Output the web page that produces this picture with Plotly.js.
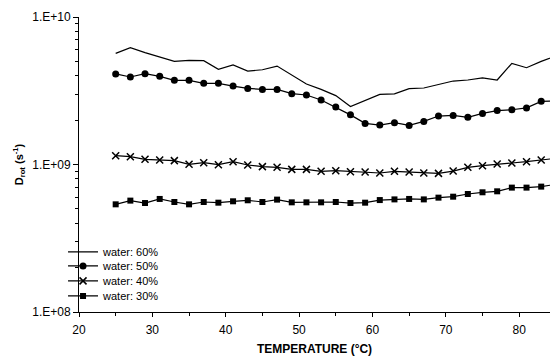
<!DOCTYPE html>
<html>
<head>
<meta charset="utf-8">
<script src="https://cdn.plot.ly/plotly-3.0.1.min.js"></script>
<style>html,body{margin:0;padding:0;background:#fff;}#chart{width:550px;height:356px;}</style>
</head>
<body>
<div id="chart"></div>
<script>
var temperature = [25,27,29,31,33,35,37,39,41,43,45,47,49,51,53,55,57,59,61,63,65,67,69,71,73,75,77,79,81,83,85];
var water60 = [5.67e9,6.20e9,5.73e9,5.35e9,5.00e9,5.08e9,5.06e9,4.42e9,4.73e9,4.30e9,4.39e9,4.65e9,4.04e9,3.51e9,3.23e9,2.93e9,2.47e9,2.71e9,2.99e9,3.01e9,3.27e9,3.30e9,3.48e9,3.68e9,3.74e9,3.86e9,3.74e9,4.85e9,4.53e9,5.00e9,5.44e9];
var water50 = [4.11e9,3.92e9,4.13e9,3.96e9,3.72e9,3.72e9,3.55e9,3.55e9,3.40e9,3.28e9,3.23e9,3.23e9,3.02e9,2.96e9,2.74e9,2.45e9,2.17e9,1.90e9,1.85e9,1.92e9,1.84e9,1.96e9,2.13e9,2.15e9,2.09e9,2.22e9,2.32e9,2.35e9,2.42e9,2.68e9,2.70e9];
var water40 = [1.148e9,1.13e9,1.084e9,1.073e9,1.062e9,1.003e9,1.029e9,0.997e9,1.045e9,0.992e9,0.967e9,0.957e9,0.927e9,0.927e9,0.899e9,0.908e9,0.894e9,0.890e9,0.876e9,0.899e9,0.890e9,0.876e9,0.871e9,0.903e9,0.957e9,0.982e9,1.008e9,1.024e9,1.045e9,1.073e9,1.101e9];
var water30 = [5.37e8,5.69e8,5.48e8,5.84e8,5.57e8,5.37e8,5.57e8,5.51e8,5.63e8,5.72e8,5.57e8,5.78e8,5.54e8,5.54e8,5.54e8,5.57e8,5.48e8,5.51e8,5.74e8,5.80e8,5.84e8,5.80e8,5.96e8,6.05e8,6.31e8,6.48e8,6.58e8,6.97e8,6.97e8,7.08e8,7.34e8];
var seriesNames = ['water: 60%','water: 50%','water: 40%','water: 30%'];
var yTickVals = [1e8,1e9,1e10];
var yTickText = ['1.E+08','1.E+09','1.E+10'];
var yMinorVals = [];
[1e8,1e9].forEach(function(d){for(var k=2;k<=9;k++){yMinorVals.push(k*d);}});

var lineStyle = {color:'#000', width:1.2};
var traces = [
  {x:temperature, y:water60, name:seriesNames[0], legend:'legend', mode:'lines', line:lineStyle},
  {x:temperature, y:water50, name:seriesNames[1], legend:'legend2', mode:'lines+markers', line:lineStyle, marker:{symbol:'circle', size:7, color:'#000'}},
  {x:temperature, y:water40, name:seriesNames[2], legend:'legend3', mode:'lines+markers', line:lineStyle, marker:{symbol:'x-thin', size:7, color:'#000', line:{color:'#000', width:1.5}}},
  {x:temperature, y:water30, name:seriesNames[3], legend:'legend4', mode:'lines+markers', line:lineStyle, marker:{symbol:'square', size:6, color:'#000'}}
];

function leg(y){
  return {x:-0.0339, xanchor:'left', y:y, yanchor:'top', bgcolor:'rgba(0,0,0,0)', font:{size:11}, itemwidth:30};
}

var layout = {
  width:550, height:356,
  margin:{l:79, r:0, t:17, b:44},
  paper_bgcolor:'#fff', plot_bgcolor:'#fff',
  font:{family:'"Liberation Sans", Arial, sans-serif', color:'#000', size:12},
  showlegend:true,
  legend:leg(0.2529),
  legend2:leg(0.2054),
  legend3:leg(0.1546),
  legend4:leg(0.1037),
  xaxis:{
    range:[20,84.2], showgrid:false, zeroline:false,
    showline:true, linecolor:'#000', linewidth:1,
    ticks:'outside', ticklen:4, tickcolor:'#000',
    tickvals:[20,30,40,50,60,70,80],
    ticklabelstandoff:3,
    minor:{ticks:'outside', ticklen:3, tickcolor:'#000', tickvals:[25,35,45,55,65,75]},
    tickfont:{size:12},
    title:{text:'<b>TEMPERATURE (°C)</b>', font:{size:12}, standoff:9}
  },
  yaxis:{
    type:'log', range:[8,10], showgrid:false, zeroline:false,
    showline:true, linecolor:'#000', linewidth:1,
    ticks:'outside', ticklen:5, tickcolor:'#000',
    tickmode:'array', tickvals:yTickVals, ticktext:yTickText,
    minor:{ticks:'outside', ticklen:3, tickcolor:'#000', tickmode:'array', tickvals:yMinorVals},
    tickfont:{size:12},
    title:{text:'<b>D<sub>rot</sub> (s<sup>-1</sup>)</b>', font:{size:11}, standoff:6}
  }
};
Plotly.newPlot('chart', traces, layout, {staticPlot:true, displayModeBar:false});
</script>
</body>
</html>
